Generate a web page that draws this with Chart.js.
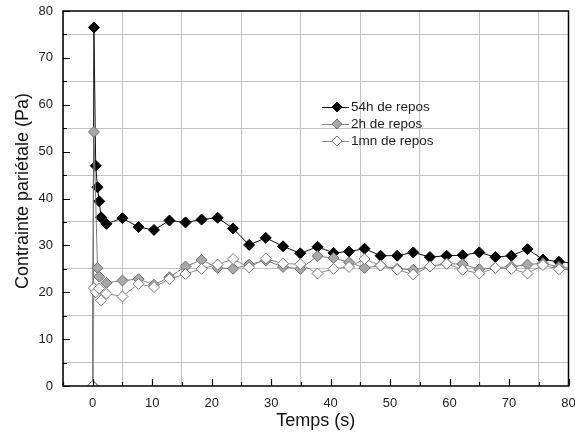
<!DOCTYPE html>
<html>
<head>
<meta charset="utf-8">
<script src="https://cdn.jsdelivr.net/npm/chart.js@4/dist/chart.umd.min.js"></script>
<style>
  html, body { margin: 0; padding: 0; background: #fff; }
  #wrap { width: 575px; height: 443px; }
</style>
</head>
<body>
<div id="wrap"><canvas id="chart" width="575" height="443"></canvas></div>
<script>
// time (s) shared by the three curves
const times = [0, 0.2, 0.5, 0.8, 1.1, 1.4, 2.3, 5.0, 7.7, 10.3, 12.9, 15.6, 18.3, 21.0, 23.6, 26.3,
  29.1, 32.0, 34.9, 37.8, 40.5, 43.1, 45.7, 48.4, 51.2, 53.9, 56.7, 59.5, 62.2, 65.0, 67.7, 70.4,
  73.1, 75.7, 78.4, 81.0];

// contrainte pariétale (Pa)
const repos54h = [0, 76.5, 47.0, 42.4, 39.4, 36.0, 34.6, 35.8, 33.9, 33.3, 35.3, 34.9, 35.5, 35.9, 33.6, 30.1,
  31.6, 29.8, 28.3, 29.7, 28.4, 28.7, 29.3, 27.8, 27.8, 28.5, 27.5, 27.8, 27.9, 28.5, 27.5, 27.8,
  29.2, 27.0, 26.5, 26.2];
const repos2h = [0, 54.2, null, 25.2, 23.3, null, 22.0, 22.5, 22.8, 21.6, 23.2, 25.5, 26.9, 25.2, 25.0, 25.9,
  26.8, 25.4, 25.0, 27.7, 27.3, 26.4, 25.2, 25.7, 25.0, 24.8, 25.5, 26.1, 26.0, 24.9, 25.2, 25.5,
  25.9, 26.2, 25.4, 25.0];
const repos1mn = [0, 20.9, 20.0, null, 20.8, 18.3, 19.7, 19.1, 21.8, 21.1, 22.8, 23.9, 25.0, 25.9, 27.1, 25.3,
  27.2, 26.1, 26.0, 24.0, 25.0, 25.4, 27.1, 25.7, 24.8, 23.8, 25.5, 26.1, 24.8, 24.0, 25.2, 25.0,
  24.0, 25.8, 24.9, 24.8];

const seriesNames = ['54h de repos', '2h de repos', '1mn de repos'];
const xTickLabels = [0, 10, 20, 30, 40, 50, 60, 70, 80];
const yTickLabels = [0, 10, 20, 30, 40, 50, 60, 70, 80];
const yTitle = 'Contrainte pariétale (Pa)';

const FONT = "'Liberation Sans', Arial, sans-serif";

function toPoints(vals) {
  return times.map((t, i) => ({ x: t, y: vals[i] }));
}

const styles = [
  { line: '#111', fill: '#000', stroke: '#000' },
  { line: '#808080', fill: '#a8a8a8', stroke: '#6e6e6e' },
  { line: '#8c8c8c', fill: '#ffffff', stroke: '#7a7a7a' }
];

const datasets = [repos54h, repos2h, repos1mn].map((vals, i) => ({
  label: seriesNames[i],
  data: toPoints(vals),
  order: 2 - i,
  clip: 0,
  showLine: true,
  spanGaps: true,
  borderColor: styles[i].line,
  borderWidth: 1,
  pointStyle: 'rectRot',
  pointRadius: 5.5,
  pointBorderWidth: 1,
  pointBackgroundColor: styles[i].fill,
  pointBorderColor: styles[i].stroke,
  tension: 0
}));

// gridlines sit on the 5, 15, 25 ... values, dotted
function gridColor(ctx) {
  const v = ctx.tick.value;
  return (Math.abs(v % 10) === 5) ? '#c4c4c4' : 'rgba(0,0,0,0)';
}

// frame, inward ticks, y title and the legend inside the plot
const frameTicks = {
  id: 'frameTicks',
  afterDraw(chart) {
    const { ctx, chartArea: a, scales: { x, y } } = chart;
    ctx.save();
    ctx.strokeStyle = '#000';
    ctx.lineWidth = 1.5;
    ctx.strokeRect(a.left, a.top, a.right - a.left, a.bottom - a.top);

    ctx.lineWidth = 1.2;
    ctx.beginPath();
    x.ticks.forEach(t => {
      const px = Math.round(x.getPixelForValue(t.value)) + 0.5;
      const len = (t.value % 10 === 0) ? 7 : 4;
      ctx.moveTo(px, a.bottom);
      ctx.lineTo(px, a.bottom - len);
    });
    y.ticks.forEach(t => {
      const py = Math.round(y.getPixelForValue(t.value)) + 0.5;
      const len = (t.value % 10 === 0) ? 7 : 4;
      ctx.moveTo(a.left, py);
      ctx.lineTo(a.left + len, py);
    });
    ctx.stroke();

    // y axis title
    ctx.save();
    ctx.translate(28, 191);
    ctx.rotate(-Math.PI / 2);
    ctx.font = '18px ' + FONT;
    ctx.fillStyle = '#111';
    ctx.textAlign = 'center';
    ctx.textBaseline = 'alphabetic';
    ctx.fillText(yTitle, 0, 0);
    ctx.restore();

    // legend
    ctx.font = '13.5px ' + FONT;
    ctx.textBaseline = 'middle';
    ctx.textAlign = 'left';
    seriesNames.forEach((name, i) => {
      const yy = 107 + i * 17;
      ctx.strokeStyle = styles[i].line;
      ctx.lineWidth = 1;
      ctx.beginPath();
      ctx.moveTo(322, yy + 0.5);
      ctx.lineTo(349, yy + 0.5);
      ctx.stroke();
      const cx = 337, r = 5;
      ctx.beginPath();
      ctx.moveTo(cx, yy - r);
      ctx.lineTo(cx + r, yy);
      ctx.lineTo(cx, yy + r);
      ctx.lineTo(cx - r, yy);
      ctx.closePath();
      ctx.fillStyle = styles[i].fill;
      ctx.fill();
      ctx.strokeStyle = styles[i].stroke;
      ctx.stroke();
      ctx.fillStyle = '#222';
      ctx.fillText(name, 351, yy);
    });
    ctx.restore();
  }
};

new Chart(document.getElementById('chart'), {
  type: 'scatter',
  data: { datasets },
  options: {
    responsive: false,
    animation: false,
    layout: { padding: { top: 11, right: 4, left: 0, bottom: 0 } },
    plugins: { legend: { display: false }, tooltip: { enabled: false } },
    scales: {
      x: {
        type: 'linear',
        min: -5,
        max: 80,
        afterBuildTicks: s => { s.ticks = []; for (let v = -5; v <= 80; v += 5) s.ticks.push({ value: v }); },
        afterFit: s => { s.height = 57; s.paddingLeft = 0; s.paddingRight = 0; },
        grid: { color: gridColor, borderDash: [1, 2], lineWidth: 1, drawTicks: false },
        border: { display: false },
        ticks: {
          autoSkip: false,
          maxRotation: 0,
          padding: 10,
          color: '#222',
          font: { family: FONT, size: 13 },
          callback: v => xTickLabels.includes(v) ? String(v) : ''
        },
        title: { display: true, text: 'Temps (s)', color: '#111', font: { family: FONT, size: 18 }, padding: { top: 0, bottom: 11 } }
      },
      y: {
        min: 0,
        max: 80,
        afterBuildTicks: s => { s.ticks = []; for (let v = 0; v <= 80; v += 5) s.ticks.push({ value: v }); },
        afterFit: s => { s.width = 63; s.paddingTop = 0; s.paddingBottom = 0; },
        grid: { color: gridColor, borderDash: [1, 2], lineWidth: 1, drawTicks: false },
        border: { display: false },
        ticks: {
          autoSkip: false,
          padding: 10,
          color: '#222',
          font: { family: FONT, size: 13 },
          callback: v => yTickLabels.includes(v) ? String(v) : ''
        },
        title: { display: false }
      }
    }
  },
  plugins: [frameTicks]
});
</script>
</body>
</html>
